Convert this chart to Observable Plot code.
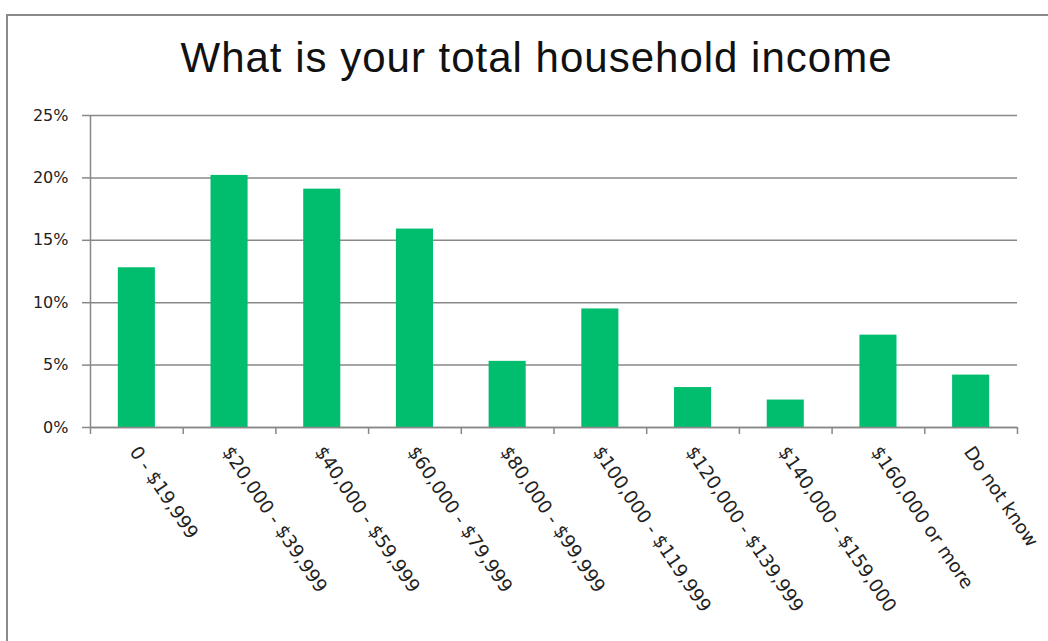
<!DOCTYPE html>
<html>
<head>
<meta charset="utf-8">
<script src="https://cdn.jsdelivr.net/npm/d3@7"></script>
<script src="https://cdn.jsdelivr.net/npm/@observablehq/plot@0.6"></script>
<style>
  html, body { margin: 0; padding: 0; background: #fff; width: 1048px; height: 641px; overflow: hidden; }
  #frame { position: absolute; left: 6px; top: 14px; width: 1100px; height: 700px; border: 2px solid #8a8a8a; box-sizing: border-box; pointer-events: none; }
  #title { position: absolute; left: 0; top: 33px; width: 1073px; text-align: center; font-family: "Liberation Sans", Arial, sans-serif; font-size: 42px; letter-spacing: 1px; line-height: 50px; color: #111; white-space: nowrap; }
  #chart { position: absolute; left: 0; top: 95px; }
</style>
</head>
<body>
<div id="title">What is your total household income</div>
<div id="chart"></div>
<div id="frame"></div>
<script>
const categories = ["0 - $19,999", "$20,000 - $39,999", "$40,000 - $59,999", "$60,000 - $79,999", "$80,000 - $99,999", "$100,000 - $119,999", "$120,000 - $139,999", "$140,000 - $159,000", "$160,000 or more", "Do not know"];
const values = [12.8, 20.2, 19.1, 15.9, 5.3, 9.5, 3.2, 2.2, 7.4, 4.2];
const yTicks = [0, 5, 10, 15, 20, 25];

const data = categories.map((c, i) => ({category: c, value: values[i]}));

const W = 1048, H = 546, mL = 90, mR = 31, mT = 20, mB = 214;
const step = (W - mL - mR) / categories.length;
const grey = "#888888";

const chart = Plot.plot({
  width: W,
  height: H,
  marginLeft: mL,
  marginRight: mR,
  marginTop: mT,
  marginBottom: mB,
  style: {fontFamily: "DejaVu Sans, Verdana, sans-serif", fontSize: "16px", color: "#222", background: "transparent"},
  x: {domain: categories, paddingInner: 0.6, paddingOuter: 0.3, round: false, label: null},
  y: {domain: [0, 25], label: null},
  marks: [
    Plot.gridY(yTicks, {stroke: grey, strokeOpacity: 1, strokeWidth: 1.5}),
    Plot.barY(data, {x: "category", y: "value", fill: "#00BE6E"}),
    Plot.ruleY([0], {stroke: grey, strokeWidth: 1.5}),
    Plot.ruleX([categories[0]], {y1: 0, y2: 25, dx: -step / 2, stroke: grey, strokeWidth: 1.5}),
    Plot.axisY(yTicks, {tickSize: 8, tickPadding: 14, stroke: grey, strokeWidth: 1.5, tickFormat: d => d + "%", fontSize: 16, fill: "#222"}),
    Plot.axisX({tickSize: 7, stroke: grey, strokeWidth: 1.5, tickFormat: () => "", dx: -step / 2}),
    Plot.axisX([categories[categories.length - 1]], {tickSize: 7, stroke: grey, strokeWidth: 1.5, tickFormat: () => "", dx: step / 2}),
    Plot.axisX({tickSize: 0, tickPadding: 21, tickRotate: 56, fontSize: 18.5, fill: "#222", dx: -3})
  ]
});
document.getElementById("chart").appendChild(chart);
</script>
</body>
</html>
